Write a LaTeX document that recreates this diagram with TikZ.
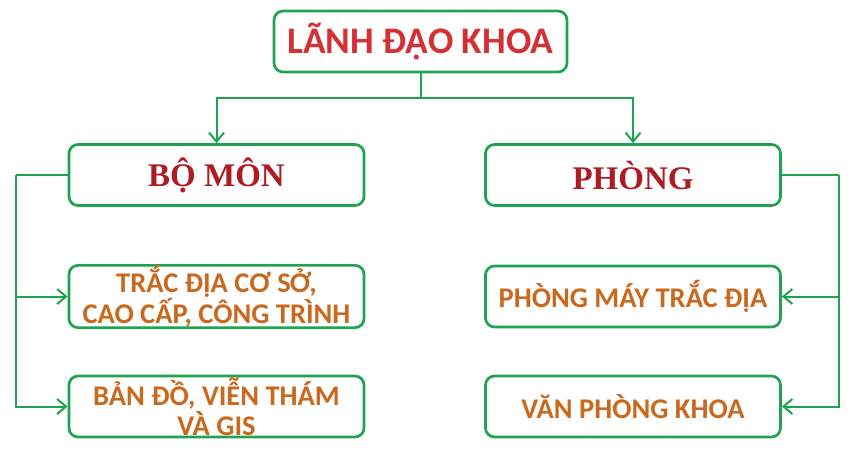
\documentclass[tikz,border=0pt]{standalone}
\usepackage{fontspec}
\setmainfont{Carlito}
\newfontfamily\calfont{Carlito}
\newfontfamily\serfont{Liberation Serif}
\usetikzlibrary{arrows.meta}
\definecolor{boxgreen}{RGB}{30,164,80}
\definecolor{titlered}{RGB}{212,48,54}
\definecolor{darkred}{RGB}{172,28,34}
\definecolor{orangetxt}{RGB}{202,104,30}
\tikzset{
  orgbox/.style={draw=boxgreen, line width=2.7pt, rounded corners=9pt, fill=white,
    minimum width=295pt, minimum height=61pt, inner sep=0pt, align=center},
  toptext/.style={text=titlered, font=\calfont\bfseries\fontsize{37.5}{40}\selectfont},
  headtext/.style={text=darkred, font=\serfont\bfseries\fontsize{33}{36}\selectfont},
  subtext/.style={text=orangetxt, font=\calfont\bfseries\fontsize{28.5}{30}\selectfont},
  conn/.style={draw=boxgreen, line width=2pt, -{Straight Barb[length=9pt,width=15pt,line width=2pt]}},
  plainconn/.style={draw=boxgreen, line width=2pt}
}
\begin{document}
\begin{tikzpicture}[x=1pt,y=-1pt]
\useasboundingbox (0,0) rectangle (858,456);
\fill[white] (0,0) rectangle (858,456);

\node[orgbox, toptext, minimum width=293pt] (top) at (420.5,41.5) {LÃNH ĐẠO KHOA};
\node[orgbox, headtext] (bomon) at (216.5,175) {BỘ MÔN};
\node[orgbox, headtext] (phong) at (633,175) {PHÒNG};
\node[orgbox, subtext] (l1) at (216.5,296.5) {TRẮC ĐỊA CƠ SỞ,\\CAO CẤP, CÔNG TRÌNH};
\node[orgbox, subtext] (l2) at (216.5,406.5) {BẢN ĐỒ, VIỄN THÁM\\VÀ GIS};
\node[orgbox, subtext] (r1) at (633,296.5) {PHÒNG MÁY TRẮC ĐỊA};
\node[orgbox, subtext] (r2) at (633,406.5) {VĂN PHÒNG KHOA};

\coordinate (j) at (420.5,98);
\draw[plainconn] (top.south) -- (j);
\draw[conn] (j) -| (bomon.north);
\draw[conn] (j) -| (phong.north);

\coordinate (lc) at (16,175);
\draw[plainconn] (bomon.west) -- (lc);
\draw[conn] (lc) |- (l1.west);
\draw[conn] (lc) |- (l2.west);

\coordinate (rc) at (839,175);
\draw[plainconn] (phong.east) -- (rc);
\draw[conn] (rc) |- (r1.east);
\draw[conn] (rc) |- (r2.east);
\end{tikzpicture}
\end{document}
